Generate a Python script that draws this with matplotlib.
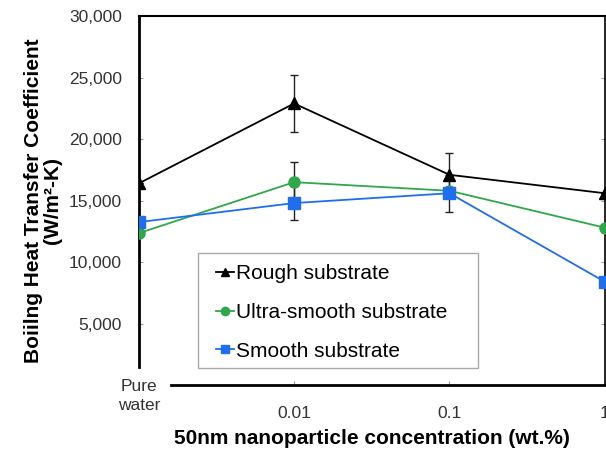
import numpy as np
import matplotlib
matplotlib.use('Agg')
import matplotlib.pyplot as plt
import matplotlib.transforms as mtransforms
from matplotlib.patches import Rectangle

plt.rcParams['font.family'] = ['Liberation Sans', 'DejaVu Sans']

# 데이터
labels = ['Pure\nwater', '0.01', '0.1', '1']
rough = [16400, 22900, 17100, 15600]
rough_err = [0, 2300, 1800, 0]
ultra = [12350, 16500, 15800, 12800]
ultra_err = [0, 1600, 0, 0]
smooth = [13250, 14800, 15600, 8400]
smooth_err = [0, 1400, 1500, 0]

x = np.arange(len(labels))

fig = plt.figure(figsize=(6.06, 4.5), dpi=100)
ax = fig.add_axes([0.229, 0.1444, 0.769, 0.8196])

# 오차막대
for vals, err in [(rough, rough_err), (ultra, ultra_err), (smooth, smooth_err)]:
    ax.errorbar(x, vals, yerr=err, fmt='none', ecolor='#222222', elinewidth=1, capsize=3, zorder=1)

ax.plot(x, rough, color='black', marker='^', ms=8.5, lw=1.3, label='Rough substrate', zorder=3)
ax.plot(x, ultra, color='#2ea84a', marker='o', ms=8, lw=1.3, label='Ultra-smooth substrate', zorder=3)
ax.plot(x, smooth, color='#1f6ef0', marker='s', ms=8, lw=1.3, label='Smooth substrate', zorder=3)

ax.set_xlim(0, 3)
ax.set_ylim(0, 30000)
yt = [5000, 10000, 15000, 20000, 25000, 30000]
ax.set_yticks(yt)
ax.set_yticklabels(['{:,}'.format(v) for v in yt])
ax.set_xticks(x)
ax.set_xticklabels(labels)

ax.spines['left'].set_bounds(1500, 30000)
ax.spines['left'].set_linewidth(2)
ax.spines['bottom'].set_bounds(0.21, 3)
ax.spines['bottom'].set_linewidth(2)
ax.spines['top'].set_linewidth(1.5)
ax.spines['right'].set_linewidth(1.2)

ax.tick_params(axis='y', direction='in', length=3, width=0.8, color='#999999',
               labelsize=12.5, labelcolor='#333333', right=True, pad=12)
ax.tick_params(axis='x', direction='in', length=3, width=0.8, color='#999999',
               labelsize=12.5, labelcolor='#333333', pad=15)
# Pure water 라벨 위로
lab0 = ax.get_xticklabels()[0]
lab0.set_linespacing(1.3)
lab0.set_transform(lab0.get_transform() + mtransforms.ScaledTranslation(0, 19 / 72, fig.dpi_scale_trans))

ax.set_xlabel('50nm nanoparticle concentration (wt.%)', fontsize=15, fontweight='bold', labelpad=6)
ax.set_ylabel('Boiilng Heat Transfer Coefficient\n(W/m²-K)', fontsize=15, fontweight='bold',
              labelpad=5, linespacing=1.0)

# 범례 상자
ax.add_patch(Rectangle((0.127, 0.046), 0.6, 0.312, transform=ax.transAxes, facecolor='white',
                       edgecolor='#aaaaaa', lw=1, zorder=4))
leg = ax.legend(loc='upper left', bbox_to_anchor=(0.165, 0.328), fontsize=15, frameon=False,
                handlelength=0.9, handletextpad=0.1, labelspacing=0.95, borderpad=0,
                borderaxespad=0)
leg.set_zorder(5)
for h in leg.legend_handles:
    h.set_markersize(6)

fig.savefig('out.png', dpi=100)
